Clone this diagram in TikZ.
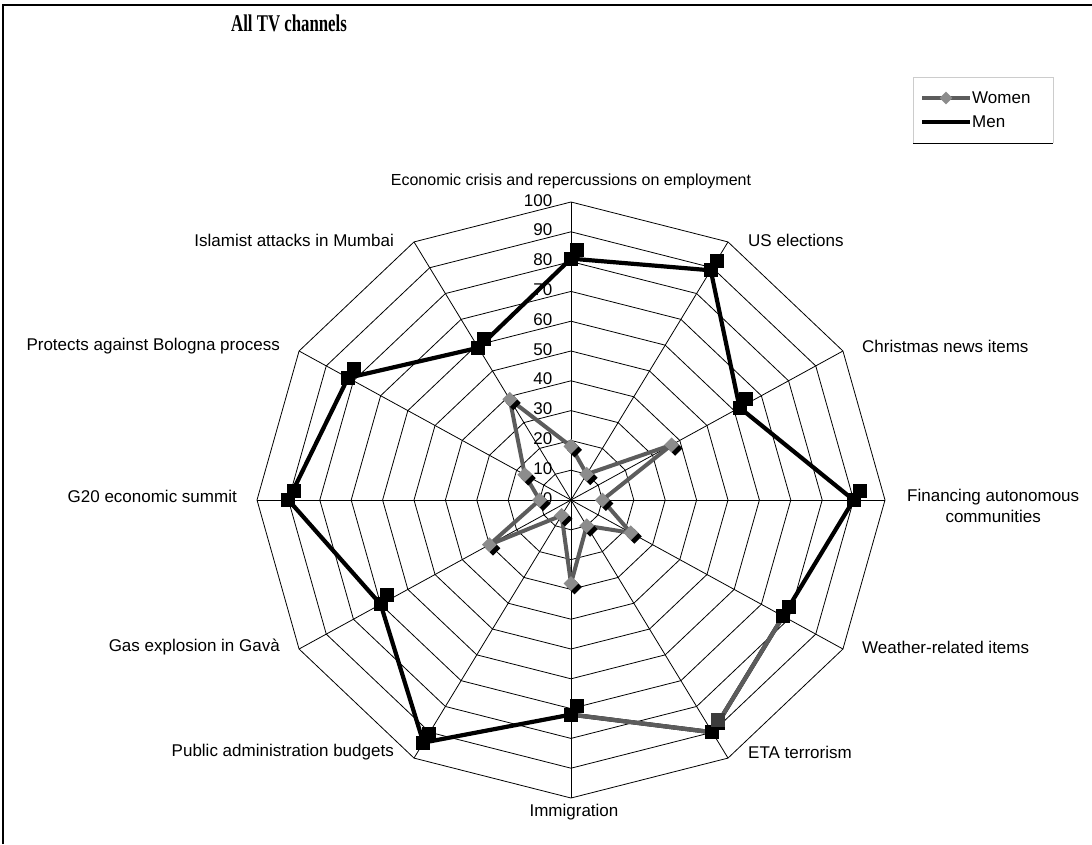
\documentclass[tikz,border=0pt]{standalone}
\usepackage{fontspec}
\setmainfont{Liberation Sans}
\newfontfamily\titlefont{Liberation Serif}
\usetikzlibrary{shapes.geometric,positioning}

\definecolor{womenline}{HTML}{5C5C5C}
\definecolor{womenfill}{HTML}{8C8C8C}
\definecolor{etagray}{HTML}{3C3C3C}

\begin{document}
\begin{tikzpicture}[
    x=1pt, y=-1pt,
    gridline/.style={draw, line width=0.8pt},
    axlabel/.style={font=\fontsize{17}{21}\selectfont, inner sep=0pt, align=center},
    tickval/.style={font=\fontsize{17}{20}\selectfont, anchor=east, inner sep=0pt},
    menline/.style={line width=4.2pt, line join=round, draw=black},
    womline/.style={line width=4pt, line join=round, draw=womenline},
    menmark/.style={rectangle, fill=black, minimum size=14pt, inner sep=0pt},
    wommark/.style={diamond, fill=womenfill, minimum size=15pt, inner sep=0pt}
]
\useasboundingbox (0,0) rectangle (1092,844);
\draw[line width=1.2pt] (3,844) -- (3,5) -- (1092,5);

\node[font=\titlefont\bfseries\fontsize{24}{26}\selectfont, xscale=0.7] (title) at (289,23) {All TV channels};

% legend
\draw[draw=black!20, line width=0.6pt] (913,143) -- (913,77) -- (1053,77) -- (1053,143);
\draw[line width=1pt] (913,143) -- (1053,143);
\coordinate (lwa) at (922,98);
\coordinate (lwb) at (970,98);
\coordinate (lma) at (922,122);
\coordinate (lmb) at (970,122);
\draw[womline] (lwa) -- (lwb);
\node[wommark, minimum size=13pt] (lwm) at (946,98) {};
\draw[menline] (lma) -- (lmb);
\node[axlabel, anchor=west] (lwt) at (972,98) {Women};
\node[axlabel, anchor=west] (lmt) at (972,122) {Men};

\begin{scope}[shift={(571,500)}, x=3.14pt, y=2.98pt]
  % rings and spokes
  \foreach \r in {10,20,...,100}
    \draw[gridline] (90:\r) \foreach \k in {1,...,11} { -- (90-30*\k:\r) } -- cycle;
  \foreach \k in {0,...,11}
    \draw[gridline] (0,0) coordinate (ctr) -- (90-30*\k:100) coordinate (ax\k);
  \foreach \v in {0,10,...,100}
    \node[tickval] (tk\v) at (-5.9,\v+0.6) {\v};

  % data: axis / men / women
  \foreach \k/\m/\w in {0/81/18, 1/89/10, 2/62/37, 3/90/10, 4/78/22, 5/90/10,
                        6/72/28, 7/94/6, 8/70/30, 9/90/10, 10/82/17, 11/59/39} {
    \coordinate (m\k) at (90-30*\k:\m);
    \coordinate (w\k) at (90-30*\k:\w);
  }

  \draw[menline] (m0) \foreach \k in {1,...,11} { -- (m\k) } -- cycle;
  \draw[menline, draw=womenline] (m4) -- (m5) -- (m6);
  \draw[womline] (w0) \foreach \k in {1,...,11} { -- (w\k) } -- cycle;

  \foreach \k in {0,...,11} {
    \node[menmark, xshift=6pt, yshift=9pt] (ms\k) at (m\k) {};
    \node[menmark] (mk\k) at (m\k) {};
    \node[wommark, fill=black, xshift=3.5pt, yshift=-3.5pt] (ws\k) at (w\k) {};
    \node[wommark] (wk\k) at (w\k) {};
  }
  \node[menmark, fill=etagray, xshift=6pt, yshift=12pt] at (m5) {};
\end{scope}

% axis labels
\node[axlabel, font=\fontsize{16}{19}\selectfont] (lab0) at (571,181) {Economic crisis and repercussions on employment};
\node[axlabel, anchor=west] (lab1) at (748,240) {US elections};
\node[axlabel, anchor=west] (lab2) at (862,346) {Christmas news items};
\node[axlabel, anchor=west] (lab3) at (907,506) {Financing autonomous\\communities};
\node[axlabel, anchor=west] (lab4) at (862,647) {Weather-related items};
\node[axlabel, anchor=west] (lab5) at (748,752) {ETA terrorism};
\node[axlabel] (lab6) at (574,812) {Immigration};
\node[axlabel, anchor=east] (lab7) at (394,752) {Public administration budgets};
\node[axlabel, anchor=east] (lab8) at (280,647) {Gas explosion in Gav\`a};
\node[axlabel, anchor=east] (lab9) at (237,496) {G20 economic summit};
\node[axlabel, anchor=east] (lab10) at (280,346) {Protects against Bologna process};
\node[axlabel, anchor=east] (lab11) at (394,240) {Islamist attacks in Mumbai};
\end{tikzpicture}
\end{document}
